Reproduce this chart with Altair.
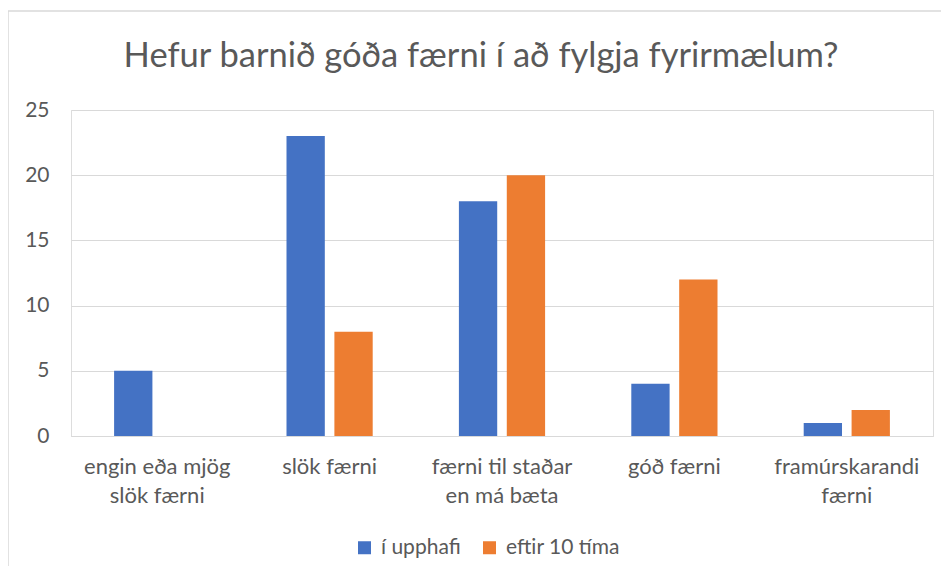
import altair as alt
import pandas as pd

categories = [
    "engin eða mjög slök færni",
    "slök færni",
    "færni til staðar en má bæta",
    "góð færni",
    "framúrskarandi færni",
]
series_names = ["í upphafi", "eftir 10 tíma"]
values_start = [5, 23, 18, 4, 1]
values_after = [0, 8, 20, 12, 2]
colors = ["#4472C4", "#ED7D31"]
title_text = "Hefur barnið góða færni í að fylgja fyrirmælum?"

rows = []
for c, a, b in zip(categories, values_start, values_after):
    rows.append({"category": c, "series": series_names[0], "value": a})
    rows.append({"category": c, "series": series_names[1], "value": b})
df = pd.DataFrame(rows)

FONT = "Lato"
GREY = "#595959"

label_expr = (
    "datum.value == 'engin eða mjög slök færni' ? ['engin eða mjög', 'slök færni'] : "
    "datum.value == 'færni til staðar en má bæta' ? ['færni til staðar', 'en má bæta'] : "
    "datum.value == 'framúrskarandi færni' ? ['framúrskarandi', 'færni'] : datum.value"
)

bars = alt.Chart(df).mark_bar().encode(
    x=alt.X(
        "category:N",
        sort=categories,
        scale=alt.Scale(paddingInner=0.5, paddingOuter=0.25),
        axis=alt.Axis(
            title=None,
            labelAngle=0,
            labelExpr=label_expr,
            labelFont=FONT,
            labelFontSize=22,
            labelColor=GREY,
            labelLineHeight=29.5,
            labelPadding=20,
            ticks=False,
            domainColor="#d9d9d9",
            domainWidth=1,
            grid=False,
        ),
    ),
    xOffset=alt.XOffset("series:N", sort=series_names, scale=alt.Scale(paddingInner=0.2)),
    y=alt.Y(
        "value:Q",
        scale=alt.Scale(domain=[0, 25]),
        axis=alt.Axis(
            title=None,
            values=[0, 5, 10, 15, 20, 25],
            labelFont=FONT,
            labelFontSize=21,
            labelColor=GREY,
            labelPadding=22,
            ticks=False,
            domain=False,
            gridColor="#d9d9d9",
            gridWidth=1,
        ),
    ),
    color=alt.Color(
        "series:N",
        sort=series_names,
        scale=alt.Scale(domain=series_names, range=colors),
        legend=alt.Legend(
            title=None,
            orient="none",
            direction="horizontal",
            legendX=283,
            legendY=427,
            symbolType="square",
            symbolSize=169,
            symbolStrokeWidth=0,
            labelFont=FONT,
            labelFontSize=21,
            labelColor=GREY,
            labelOffset=6,
            columnPadding=18,
        ),
    ),
)

border = alt.Chart(pd.DataFrame({"a": [0]})).mark_rect(
    fill=None, stroke="#d9d9d9", strokeWidth=1.5
).encode(
    x=alt.value(-63),
    x2=alt.value(900),
    y=alt.value(-99),
    y2=alt.value(600),
)

chart = alt.layer(border, bars).properties(
    width=862,
    height=326,
    padding={"left": 63, "top": 102, "right": 8, "bottom": 130},
    autosize=alt.AutoSizeParams(type="none"),
    title=alt.TitleParams(
        title_text,
        font=FONT,
        fontSize=34.5,
        fontWeight="normal",
        color=GREY,
        anchor="middle",
        baseline="alphabetic",
        offset=43,
        dy=134,
        dx=-21,
    ),
).configure_view(stroke=None).configure(background="white")

chart.save("out.html", embed_options={"renderer": "svg", "actions": False})
